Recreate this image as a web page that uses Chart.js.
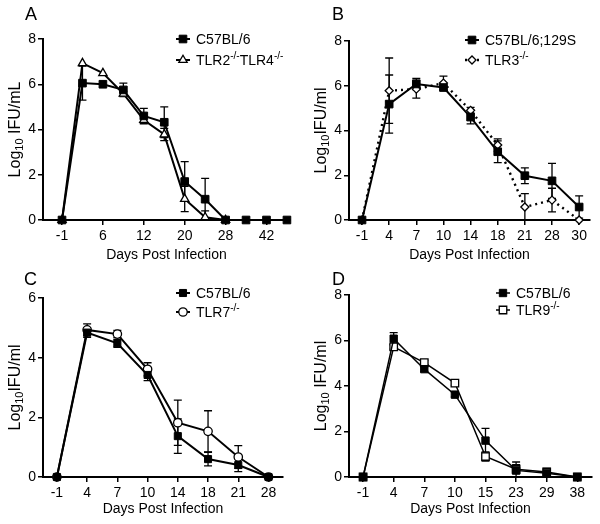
<!DOCTYPE html>
<html>
<head>
<meta charset="utf-8">
<script src="https://cdn.jsdelivr.net/npm/chart.js@4.4.0/dist/chart.umd.min.js"></script>
<style>
  body { margin: 0; background: #fff; }
  #wrap { position: relative; width: 600px; height: 524px; overflow: hidden; }
  #wrap canvas { position: absolute; }
  .tag { position: absolute; font: 18px 'Liberation Sans', Arial, sans-serif; line-height: 18px; color: #000; }
</style>
</head>
<body>
<div id="wrap">
  <canvas id="chartA" width="300" height="264" style="left:0;top:0"></canvas>
  <canvas id="chartB" width="300" height="264" style="left:300px;top:0"></canvas>
  <canvas id="chartC" width="300" height="264" style="left:0;top:260px"></canvas>
  <canvas id="chartD" width="300" height="264" style="left:300px;top:260px"></canvas>
  <div class="tag" style="left:25px;top:5px">A</div>
  <div class="tag" style="left:332px;top:5px">B</div>
  <div class="tag" style="left:24px;top:270px">C</div>
  <div class="tag" style="left:332px;top:270px">D</div>
</div>
<script>
// tick labels (one per sampled day, blanks are unlabelled positions)
const ticksA = ['-1', '', '6', '', '12', '', '20', '', '28', '', '42', ''];
const ticksB = ['-1', '4', '7', '10', '14', '18', '21', '28', '30'];
const ticksC = ['-1', '4', '7', '10', '14', '18', '21', '28'];
const ticksD = ['-1', '4', '7', '10', '15', '23', '29', '38'];

// panel A
const aC57 = [0, 6.05, 6.0, 5.75, 4.6, 4.32, 1.7, 0.92, 0, 0, 0, 0];
const aC57Err = [0, 0.75, 0, 0.3, 0.33, 0.68, 0.88, 0.92, 0, 0, 0, 0];
const aTLR24 = [0, 6.93, 6.49, 5.58, 4.42, 3.78, 0.93, 0.12, 0];
const aTLR24Err = [0, 0, 0, 0.1, 0.17, 0.27, 0.56, 0.28, 0];

// panel B
const bC57 = [0, 5.18, 6.08, 5.92, 4.6, 3.05, 1.98, 1.75, 0.58];
const bC57Err = [0, 1.3, 0.25, 0.1, 0.3, 0.49, 0.35, 0.78, 0.5];
const bTLR3 = [0, 5.78, 5.85, 6.12, 4.9, 3.35, 0.58, 0.89, 0];
const bTLR3Err = [0, 1.46, 0.4, 0.31, 0.13, 0.28, 0.6, 0.53, 0];

// panel C
const cC57 = [0, 4.84, 4.48, 3.42, 1.37, 0.6, 0.4, 0];
const cC57Err = [0, 0.16, 0.13, 0.19, 0.58, 0.23, 0.22, 0];
const cTLR7 = [0, 4.93, 4.79, 3.61, 1.82, 1.53, 0.67, 0];
const cTLR7Err = [0, 0.2, 0.12, 0.22, 0.76, 0.69, 0.38, 0];

// panel D
const dC57 = [0, 6.08, 4.74, 3.62, 1.6, 0.29, 0.16, 0];
const dC57Err = [0, 0.27, 0.1, 0.1, 0.54, 0.37, 0.22, 0];
const dTLR9 = [0, 5.72, 5.03, 4.13, 0.9, 0.34, 0.22, 0];
const dTLR9Err = [0, 0.1, 0.1, 0.1, 0.2, 0.2, 0.1, 0];

const FONT = "'Liberation Sans', Arial, sans-serif";
Chart.defaults.font.family = FONT;
Chart.defaults.color = '#000';

function toPoints(values) {
    return values.map((v, i) => ({ x: i, y: v })).filter(p => p.y !== null);
}

// mean +/- SEM bars, drawn under the lines
const errorBars = {
    id: 'errorBars',
    beforeDatasetsDraw(chart) {
        const ctx = chart.ctx;
        const xs = chart.scales.x;
        const ys = chart.scales.y;
        ctx.save();
        ctx.strokeStyle = '#000';
        ctx.lineWidth = 1.3;
        chart.data.datasets.forEach(ds => {
            if (!ds.errors) return;
            ds.data.forEach(p => {
                const e = ds.errors[p.x];
                if (!e) return;
                const px = xs.getPixelForValue(p.x);
                const top = ys.getPixelForValue(p.y + e);
                const low = Math.max(0, p.y - e);
                const bot = ys.getPixelForValue(low);
                ctx.beginPath();
                ctx.moveTo(px, top); ctx.lineTo(px, bot);
                ctx.moveTo(px - 4, top); ctx.lineTo(px + 4, top);
                if (low > 0) { ctx.moveTo(px - 4, bot); ctx.lineTo(px + 4, bot); }
                ctx.stroke();
            });
        });
        ctx.restore();
    }
};

// y title with a real subscript: "Log" + small "10" + rest
const yTitle = {
    id: 'yTitle',
    afterDraw(chart, args, opts) {
        const ctx = chart.ctx;
        const area = chart.chartArea;
        const parts = [
            { t: 'Log', size: 16, dy: 0 },
            { t: '10', size: 11, dy: 4 },
            { t: opts.rest, size: 16, dy: 0 }
        ];
        ctx.save();
        ctx.translate(opts.x, (area.top + area.bottom) / 2);
        ctx.rotate(-Math.PI / 2);
        ctx.fillStyle = '#000';
        ctx.textBaseline = 'middle';
        let total = 0;
        parts.forEach(p => {
            ctx.font = p.size + 'px ' + FONT;
            p.w = ctx.measureText(p.t).width;
            total += p.w;
        });
        let tx = -total / 2;
        parts.forEach(p => {
            ctx.font = p.size + 'px ' + FONT;
            ctx.fillText(p.t, tx, p.dy);
            tx += p.w;
        });
        ctx.restore();
    }
};

// legend with line + marker sample and raised "-/-"
const panelLegend = {
    id: 'panelLegend',
    afterDraw(chart, args, opts) {
        const ctx = chart.ctx;
        chart.data.datasets.forEach((ds, i) => {
            const x = opts.x;
            const y = opts.y + i * opts.gap;
            ctx.save();
            ctx.strokeStyle = '#000';
            ctx.lineWidth = ds.borderWidth;
            ctx.setLineDash(ds.borderDash || []);
            ctx.beginPath();
            ctx.moveTo(x - 7, y);
            ctx.lineTo(x + 7, y);
            ctx.stroke();
            ctx.setLineDash([]);
            ctx.fillStyle = ds.pointBackgroundColor;
            ctx.lineWidth = ds.pointBorderWidth;
            Chart.helpers.drawPoint(ctx, {
                pointStyle: ds.pointStyle,
                radius: ds.pointRadius,
                rotation: 0,
                borderWidth: ds.pointBorderWidth
            }, x, y);

            let tx = x + 13;
            ctx.fillStyle = '#000';
            ctx.textBaseline = 'alphabetic';
            ds.label.split(/(-\/-)/).forEach(part => {
                if (!part) return;
                if (part === '-/-') {
                    ctx.font = '10px ' + FONT;
                    ctx.fillText(part, tx, y - 1);
                } else {
                    ctx.font = '14px ' + FONT;
                    ctx.fillText(part, tx, y + 5);
                }
                tx += ctx.measureText(part).width;
            });
            ctx.restore();
        });
    }
};

function makePanel(id, p) {
    const datasets = p.series.map(s => ({
        label: s.label,
        data: toPoints(s.values),
        errors: s.errors,
        borderColor: '#000',
        borderWidth: s.width,
        borderDash: s.dash || [],
        pointStyle: s.marker,
        pointRadius: s.radius,
        pointBackgroundColor: s.fill,
        pointBorderColor: '#000',
        pointBorderWidth: s.fill === '#fff' ? 1.3 : 1,
        tension: 0,
        clip: false
    }));

    return new Chart(document.getElementById(id), {
        type: 'line',
        data: { datasets: datasets },
        plugins: [errorBars, panelLegend, yTitle],
        options: {
            responsive: false,
            animation: false,
            layout: { padding: { top: p.top, right: p.right, left: 0, bottom: 0 } },
            plugins: {
                legend: { display: false },
                tooltip: { enabled: false },
                panelLegend: p.legend,
                yTitle: { x: p.yTitleX, rest: p.yRest }
            },
            scales: {
                x: {
                    type: 'linear',
                    min: p.xMin,
                    max: p.xMax,
                    afterFit: scale => { scale.height = p.xHeight; },
                    afterBuildTicks: scale => {
                        scale.ticks = p.ticks.map((t, i) => ({ value: i, label: t })).filter(t => t.label !== '');
                    },
                    border: { display: true, color: '#000', width: 2 },
                    grid: { drawOnChartArea: false, drawTicks: true, tickLength: 5, color: '#000', lineWidth: 1.5 },
                    ticks: {
                        autoSkip: false,
                        maxRotation: 0,
                        padding: 3,
                        font: { size: 14 },
                        callback: v => p.ticks[v]
                    },
                    title: {
                        display: true,
                        text: 'Days Post Infection',
                        font: { size: 14 },
                        padding: { top: 0, bottom: p.xTitlePad }
                    }
                },
                y: {
                    min: 0,
                    max: p.yMax,
                    afterFit: scale => { scale.width = p.yWidth; },
                    border: { display: true, color: '#000', width: 2 },
                    grid: { drawOnChartArea: false, drawTicks: true, tickLength: 5, color: '#000', lineWidth: 1.5 },
                    ticks: { stepSize: 2, padding: 2, font: { size: 14 } }
                }
            }
        }
    });
}

makePanel('chartA', {
    ticks: ticksA, xMin: -0.93, xMax: 11.15, yMax: 8,
    top: 39, right: 10, yWidth: 43, xHeight: 44, xTitlePad: 0, yTitleX: 16,
    yRest: ' IFU/mL',
    legend: { x: 183, y: 39, gap: 21 },
    series: [
        { label: 'C57BL/6', values: aC57, errors: aC57Err, width: 2, marker: 'rect', radius: 5.4, fill: '#000' },
        { label: 'TLR2-/-TLR4-/-', values: aTLR24, errors: aTLR24Err, width: 2, marker: 'triangle', radius: 4.8, fill: '#fff' }
    ]
});

makePanel('chartB', {
    ticks: ticksB, xMin: -0.48, xMax: 8.4, yMax: 8,
    top: 41, right: 10, yWidth: 49, xHeight: 44, xTitlePad: 0, yTitleX: 22,
    yRest: 'IFU/ml',
    legend: { x: 172, y: 40, gap: 20 },
    series: [
        { label: 'C57BL/6;129S', values: bC57, errors: bC57Err, width: 2, marker: 'rect', radius: 5.4, fill: '#000' },
        { label: 'TLR3-/-', values: bTLR3, errors: bTLR3Err, width: 2.4, dash: [2, 4], marker: 'rectRot', radius: 4, fill: '#fff' }
    ]
});

makePanel('chartC', {
    ticks: ticksC, xMin: -0.46, xMax: 7.48, yMax: 6,
    top: 38, right: 17, yWidth: 43, xHeight: 47, xTitlePad: 6.5, yTitleX: 15.5,
    yRest: 'IFU/ml',
    legend: { x: 183, y: 33, gap: 19 },
    series: [
        { label: 'C57BL/6', values: cC57, errors: cC57Err, width: 2, marker: 'rect', radius: 5, fill: '#000' },
        { label: 'TLR7-/-', values: cTLR7, errors: cTLR7Err, width: 2, marker: 'circle', radius: 4.2, fill: '#fff' }
    ]
});

makePanel('chartD', {
    ticks: ticksD, xMin: -0.46, xMax: 7.48, yMax: 8,
    top: 35, right: 8, yWidth: 49, xHeight: 47, xTitlePad: 6.5, yTitleX: 22,
    yRest: ' IFU/ml',
    legend: { x: 203, y: 33, gap: 17 },
    series: [
        { label: 'C57BL/6', values: dC57, errors: dC57Err, width: 1.5, marker: 'rect', radius: 5.2, fill: '#000' },
        { label: 'TLR9-/-', values: dTLR9, errors: dTLR9Err, width: 1.5, marker: 'rect', radius: 5.3, fill: '#fff' }
    ]
});
</script>
</body>
</html>
